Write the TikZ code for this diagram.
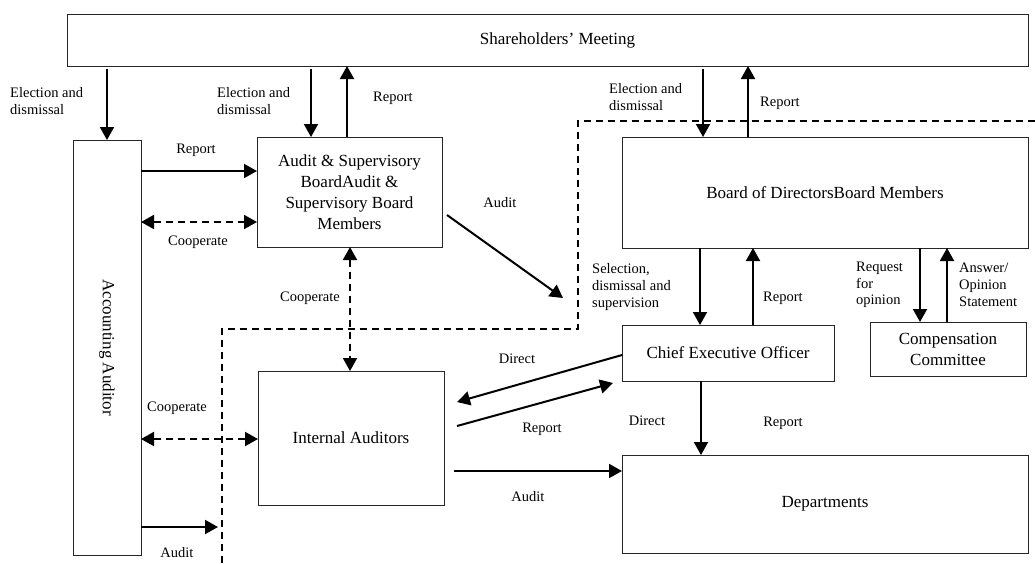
\documentclass[tikz,border=0pt]{standalone}
\usepackage{fontspec}
\setmainfont{Liberation Serif}
\usetikzlibrary{arrows.meta}
\begin{document}
\begin{tikzpicture}[x=1pt,y=-1pt,
  box/.style={draw=black!85,line width=1pt,inner sep=0pt,outer sep=0pt,anchor=north west,align=center,font=\fontsize{17}{21}\selectfont},
  lbl/.style={inner sep=0pt,align=left,font=\fontsize{14.5}{17.5}\selectfont},
  arr/.style={line width=2pt,-{Triangle[length=13pt,width=14pt]}},
  darr/.style={line width=2pt,dash pattern=on 7pt off 5pt,{Triangle[length=13pt,width=14pt]}-{Triangle[length=13pt,width=14pt]}},
  bound/.style={line width=1.8pt,dash pattern=on 7pt off 5pt}]
\useasboundingbox (0,0) rectangle (1035,563);
% boxes
\node[box,minimum width=961pt,minimum height=52pt] (sm) at (67,14) {};
\node[font=\fontsize{17}{21}\selectfont] (smt) at ([xshift=10pt]sm.center) {Shareholders’ Meeting};
\node[box,minimum width=68pt,minimum height=415pt] (aa) at (73,140) {};
\node[rotate=-90,font=\fontsize{17}{21}\selectfont] (aat) at (aa.center) {Accounting Auditor};
\node[box,minimum width=185pt,minimum height=110pt] (asb) at (257,137) {Audit \& Supervisory\\BoardAudit \&\\Supervisory Board\\Members};
\node[box,minimum width=406pt,minimum height=111pt] (bod) at (622,137) {Board of DirectorsBoard Members};
\node[box,minimum width=212pt,minimum height=56pt] (ceo) at (622,325) {Chief Executive Officer};
\node[box,minimum width=156pt,minimum height=54pt] (cc) at (870,322) {Compensation\\Committee};
\node[box,minimum width=186pt,minimum height=134pt] (ia) at (258,371) {Internal Auditors};
\node[box,minimum width=406pt,minimum height=98pt] (dep) at (622,455) {Departments};
% boundary
\draw[bound] (1035,121) -- (578,121) -- (578,329) -- (222,329) -- (222,563);
% connectors
\draw[arr,shorten <=3pt] (sm.south -| aa.north) -- (aa.north);
\draw[arr,shorten <=3pt] (311,0 |- sm.south) -- (311,0 |- asb.north);
\draw[arr] (347,0 |- asb.north) -- (347,0 |- sm.south);
\draw[arr,shorten <=3pt] (703,0 |- sm.south) -- (703,0 |- bod.north);
\draw[arr] (748,0 |- bod.north) -- (748,0 |- sm.south);
\draw[arr] (0,171 -| aa.east) -- (0,171 -| asb.west);
\draw[darr] (0,222 -| aa.east) -- (0,222 -| asb.west);
\coordinate (auditend) at (563,298);
\draw[arr] ([xshift=5pt,yshift=-23pt]asb.east) -- (auditend);
\draw[darr] (350,0 |- asb.south) -- (350,0 |- ia.north);
\draw[darr] (0,439 -| aa.east) -- (0,439 -| ia.west);
\coordinate (aaauditend) at (218,527);
\draw[arr] (0,527 -| aa.east) -- (aaauditend);
\draw[arr] (700,0 |- bod.south) -- (700,0 |- ceo.north);
\draw[arr] (753,0 |- ceo.north) -- (753,0 |- bod.south);
\draw[arr] (920,0 |- bod.south) -- (920,0 |- cc.north);
\draw[arr] (947,0 |- cc.north) -- (947,0 |- bod.south);
\draw[arr] (0,355 -| ceo.west) -- ([xshift=13pt,yshift=36pt]ia.east);
\draw[arr] ([xshift=13pt,yshift=12pt]ia.east) -- ([xshift=-9pt,yshift=-30pt]ceo.west);
\draw[arr] (701,0 |- ceo.south) -- (701,0 |- dep.north);
\draw[arr] ([xshift=10pt]0,471 -| ia.east) -- (0,471 -| dep.west);
% labels
\node[lbl,anchor=west] (l1) at (10,101) {Election and\\dismissal};
\node[lbl,anchor=west] (l2) at (217,101) {Election and\\dismissal};
\node[lbl,anchor=west] (l3) at (373,98) {Report};
\node[lbl,anchor=west] (l4) at (609,97) {Election and\\dismissal};
\node[lbl,anchor=west] (l5) at (760,103) {Report};
\node[lbl] (l6) at (196,150) {Report};
\node[lbl] (l7) at (198,242) {Cooperate};
\node[lbl] (l8) at (500,203) {Audit};
\node[lbl] (l9) at (310,298) {Cooperate};
\node[lbl] (l10) at (177,408) {Cooperate};
\node[lbl] (l11) at (177,553) {Audit};
\node[lbl,anchor=west,font=\fontsize{14.5}{17}\selectfont] (l12) at (592,287) {Selection,\\dismissal and\\supervision};
\node[lbl,anchor=west] (l13) at (763,298) {Report};
\node[lbl,anchor=west,font=\fontsize{14.5}{16.5}\selectfont] (l14) at (856,285) {Request\\for\\opinion};
\node[lbl,anchor=west,font=\fontsize{14.5}{17}\selectfont] (l15) at (959,285) {Answer/\\Opinion\\Statement};
\node[lbl] (l16) at (517,359) {Direct};
\node[lbl] (l17) at (542,429) {Report};
\node[lbl] (l18) at (647,421) {Direct};
\node[lbl] (l19) at (783,423) {Report};
\node[lbl] (l20) at (528,497) {Audit};
\end{tikzpicture}
\end{document}
